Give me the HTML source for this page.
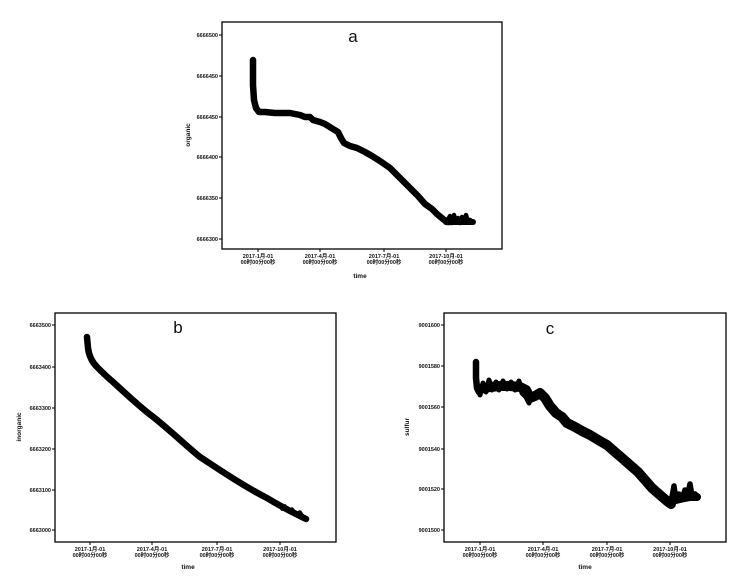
<!DOCTYPE html>
<html><head><meta charset="utf-8"><style>
html,body{margin:0;padding:0;background:#fff;}
svg{display:block;}
text{font-family:"Liberation Sans","Noto Sans CJK SC",sans-serif;fill:#111;}
.tl{font-size:5.5px;font-weight:bold;}
.yl{font-size:5.5px;font-weight:bold;text-anchor:end;}
.ax{font-size:6.5px;font-weight:bold;text-anchor:middle;}
.tt{font-size:17px;text-anchor:middle;}
.box{fill:none;stroke:#000;stroke-width:1.3;}
.tk{stroke:#000;stroke-width:1;}
.c{fill:none;stroke:#000;stroke-linecap:round;stroke-linejoin:round;}
</style></head><body>
<svg width="740" height="577" viewBox="0 0 740 577" xmlns="http://www.w3.org/2000/svg">
<!-- Plot a -->
<rect class="box" x="222" y="22" width="280" height="227"/>
<g class="tk">
<line x1="219" y1="35" x2="222" y2="35"/><line x1="219" y1="76" x2="222" y2="76"/><line x1="219" y1="117" x2="222" y2="117"/><line x1="219" y1="157" x2="222" y2="157"/><line x1="219" y1="198" x2="222" y2="198"/><line x1="219" y1="239" x2="222" y2="239"/>
<line x1="258" y1="249" x2="258" y2="252"/><line x1="320" y1="249" x2="320" y2="252"/><line x1="384" y1="249" x2="384" y2="252"/><line x1="446" y1="249" x2="446" y2="252"/>
</g>
<g class="yl">
<text x="218" y="37">6666500</text><text x="218" y="78">6666450</text><text x="218" y="119">6666450</text><text x="218" y="159">6666400</text><text x="218" y="200">6666350</text><text x="218" y="241">6666300</text>
</g>
<g class="tl" text-anchor="middle">
<text x="258" y="258">2017-1月-01</text><text x="258" y="264">00时00分00秒</text>
<text x="320" y="258">2017-4月-01</text><text x="320" y="264">00时00分00秒</text>
<text x="384" y="258">2017-7月-01</text><text x="384" y="264">00时00分00秒</text>
<text x="446" y="258">2017-10月-01</text><text x="446" y="264">00时00分00秒</text>
</g>
<text class="ax" x="360" y="278">time</text>
<text class="ax" transform="translate(190,135) rotate(-90)">organic</text>
<text class="tt" x="353" y="42">a</text>
<polyline class="c" stroke-width="6.5" points="253,60 253,85 254,100 256,108 259,112 265,112 275,113 290,113 300,115 305,117 310,117 313,120 320,122 325,124 333,129 338,132 341,138 344,143 350,146 357,148 365,152 372,156 380,161 390,168 400,178 410,188 418,196 425,204 432,209 437,214 443,219 447,222 450,222"/>
<polyline class="c" stroke-width="4.5" points="447,221 450,216 452,223 454,215 456,222 458,218 460,223 462,217 464,222 466,215 468,222 470,220 473,222"/>
<polyline class="c" stroke-width="6" points="446,222 473,222"/>
<!-- Plot b -->
<rect class="box" x="55" y="313" width="281" height="229"/>
<g class="tk">
<line x1="52" y1="325" x2="55" y2="325"/><line x1="52" y1="367" x2="55" y2="367"/><line x1="52" y1="408" x2="55" y2="408"/><line x1="52" y1="449" x2="55" y2="449"/><line x1="52" y1="490" x2="55" y2="490"/><line x1="52" y1="530" x2="55" y2="530"/>
<line x1="90" y1="542" x2="90" y2="545"/><line x1="152" y1="542" x2="152" y2="545"/><line x1="217" y1="542" x2="217" y2="545"/><line x1="280" y1="542" x2="280" y2="545"/>
</g>
<g class="yl">
<text x="51" y="327">6663500</text><text x="51" y="369">6663400</text><text x="51" y="410">6663300</text><text x="51" y="451">6663200</text><text x="51" y="492">6663100</text><text x="51" y="532">6663000</text>
</g>
<g class="tl" text-anchor="middle">
<text x="90" y="551">2017-1月-01</text><text x="90" y="557">00时00分00秒</text>
<text x="152" y="551">2017-4月-01</text><text x="152" y="557">00时00分00秒</text>
<text x="217" y="551">2017-7月-01</text><text x="217" y="557">00时00分00秒</text>
<text x="280" y="551">2017-10月-01</text><text x="280" y="557">00时00分00秒</text>
</g>
<text class="ax" x="188" y="569">time</text>
<text class="ax" transform="translate(21,427) rotate(-90)">inorganic</text>
<text class="tt" x="178" y="333">b</text>
<path class="c" stroke-width="6.5" d="M87,337 L88,348 C89,356 92,362 97,367 C103,373 107,377 112,381 C125,393 140,407 152,416 C170,430 185,445 200,457 C220,470 245,487 267,498 C280,506 292,512 300,516 L306,519"/>
<polyline class="c" stroke-width="3.5" points="282,509 285,506 288,511 292,509 296,514 300,512 304,518"/>
<!-- Plot c -->
<rect class="box" x="444" y="313" width="282" height="229"/>
<g class="tk">
<line x1="441" y1="325" x2="444" y2="325"/><line x1="441" y1="366" x2="444" y2="366"/><line x1="441" y1="407" x2="444" y2="407"/><line x1="441" y1="449" x2="444" y2="449"/><line x1="441" y1="489" x2="444" y2="489"/><line x1="441" y1="530" x2="444" y2="530"/>
<line x1="480" y1="542" x2="480" y2="545"/><line x1="543" y1="542" x2="543" y2="545"/><line x1="607" y1="542" x2="607" y2="545"/><line x1="670" y1="542" x2="670" y2="545"/>
</g>
<g class="yl">
<text x="440" y="327">9001600</text><text x="440" y="368">9001580</text><text x="440" y="409">9001560</text><text x="440" y="451">9001540</text><text x="440" y="491">9001520</text><text x="440" y="532">9001500</text>
</g>
<g class="tl" text-anchor="middle">
<text x="480" y="551">2017-1月-01</text><text x="480" y="557">00时00分00秒</text>
<text x="543" y="551">2017-4月-01</text><text x="543" y="557">00时00分00秒</text>
<text x="607" y="551">2017-7月-01</text><text x="607" y="557">00时00分00秒</text>
<text x="670" y="551">2017-10月-01</text><text x="670" y="557">00时00分00秒</text>
</g>
<text class="ax" x="585" y="569">time</text>
<text class="ax" transform="translate(409,427) rotate(-90)">sulfur</text>
<text class="tt" x="550" y="334">c</text>
<polyline class="c" stroke-width="6.5" points="476,362 476,378 477,388 479,392"/>
<polyline class="c" stroke-width="10" points="480,389 490,387 500,386 510,386 520,387 526,390 530,398 535,396 540,393 545,398 550,406 556,413 562,417 567,423 575,427 582,431 590,435 600,441 607,445 615,452 622,458 630,465 638,472 645,480 652,488 660,495 667,501 671,504"/>
<polyline class="c" stroke-width="5" points="480,395 483,383 486,392 489,380 492,390 496,382 499,390 503,381 507,389 511,382 515,390 519,381 522,393 526,397 529,403"/>
<polyline class="c" stroke-width="5.5" points="668,503 672,497 674,486 676,500 679,494 682,499 685,490 687,497 690,484 692,496 695,494 698,497"/>
<polyline class="c" stroke-width="8" points="668,502 680,499 690,497 697,497"/>
</svg>
</body></html>
